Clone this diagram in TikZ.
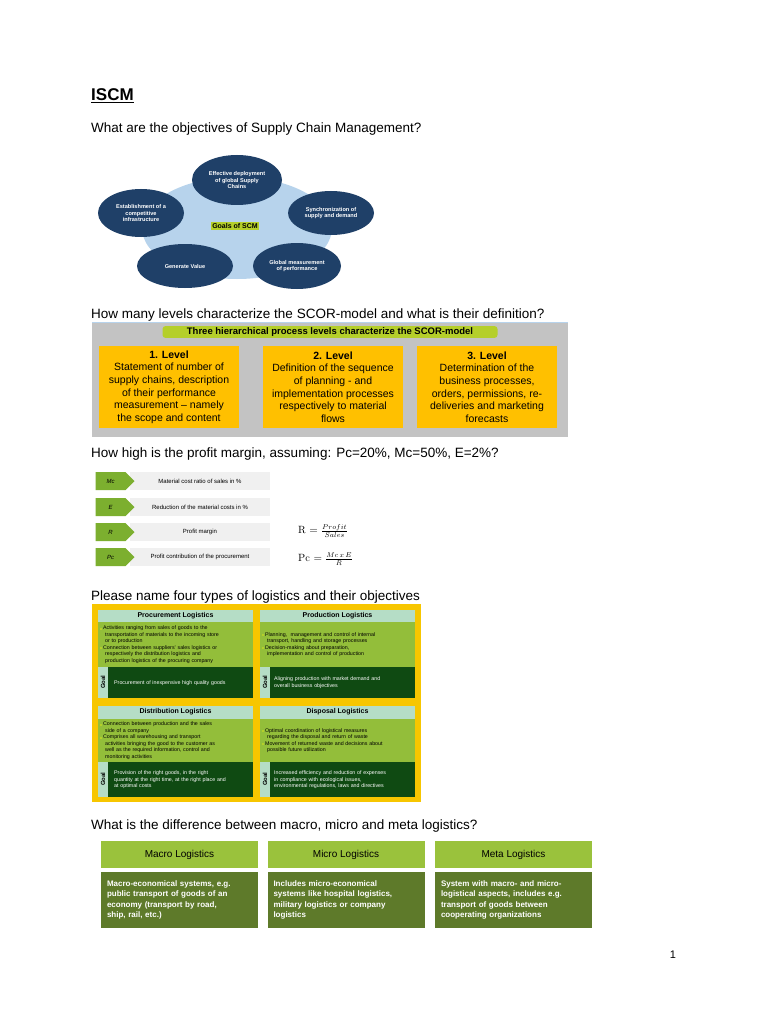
\documentclass[tikz,border=0pt]{standalone}
\usepackage{amssymb}
\usepackage{fontspec}
\setmainfont{Liberation Sans}
\usetikzlibrary{shapes.geometric,shapes.symbols}
\definecolor{navy}{HTML}{1F4068}
\definecolor{lblue}{HTML}{B7D3EC}
\definecolor{ygreen}{HTML}{B5CF2A}
\definecolor{sgray}{HTML}{C3C3C3}
\definecolor{orng}{HTML}{FFC000}
\definecolor{lgreen}{HTML}{93BE3A}
\definecolor{mgreen}{HTML}{7CAF2F}
\definecolor{rowgray}{HTML}{F0F0F0}
\definecolor{teal}{HTML}{B5DDC6}
\definecolor{dgreen}{HTML}{0F4A12}
\definecolor{ogreen}{HTML}{5E7A2A}
\definecolor{hgreen}{HTML}{9AC23C}
\definecolor{gold}{HTML}{F7C600}
\newcommand\bsq{\hspace*{2pt}\textcolor{ygreen}{\rule{2pt}{2pt}}\,}
\tikzset{
 q/.style={anchor=west,font=\fontsize{13.5}{16}\selectfont,inner sep=0},
 goal/.style={ellipse,fill=navy,text=white,font=\bfseries\fontsize{5.6}{6.6}\selectfont,align=center,inner sep=0},
 lvl/.style={fill=orng,minimum width=140,minimum height=82,align=center,font=\fontsize{10.5}{12.6}\selectfont,inner sep=0},
 arr/.style={signal,signal to=east,fill=mgreen,minimum height=18,minimum width=39,inner sep=0,font=\itshape\fontsize{6}{7}\selectfont},
 bar/.style={fill=rowgray,minimum width=140,minimum height=18,inner sep=0,font=\fontsize{6}{7}\selectfont},
 lhead/.style={fill=teal,minimum width=155,minimum height=13,inner sep=0,font=\bfseries\fontsize{7}{8}\selectfont},
 lbody/.style={fill=lgreen,minimum width=155,anchor=north west,inner sep=0,font=\fontsize{5.3}{6.6}\selectfont,align=left},
 lgoal/.style={fill=dgreen,text=white,anchor=north west,inner sep=0,font=\fontsize{5.3}{6.6}\selectfont,align=left},
 gtag/.style={fill=teal,anchor=north west,inner sep=0,minimum width=10},
 gword/.style={rotate=90,font=\bfseries\fontsize{6}{7}\selectfont,inner sep=0},
 mhead/.style={fill=hgreen,minimum width=157,minimum height=27,inner sep=0,font=\fontsize{10}{12}\selectfont},
 mbody/.style={fill=ogreen,text=white,minimum width=157,minimum height=56,inner sep=0,font=\bfseries\fontsize{8}{10.5}\selectfont,text width=145,align=left}
}
\begin{document}
\begin{tikzpicture}[x=1pt,y=-1pt]
\useasboundingbox[fill=white] (0,0) rectangle (768,1024);
\node[anchor=west,inner sep=0,font=\bfseries\fontsize{17}{20}\selectfont] (t) at (91,96) {\underline{ISCM}};
\node[q] (q1) at (91,129) {What are the objectives of Supply Chain Management?};
% goals
\node[ellipse,fill=lblue,minimum width=190,minimum height=102,inner sep=0] (c) at (237,228) {};
\node[fill=ygreen,inner sep=1,font=\bfseries\fontsize{7}{8}\selectfont] (gl) at (235,226) {Goals of SCM};
\node[goal,minimum width=90,minimum height=50] (g1) at (237,180) {Effective deployment\\of global Supply\\Chains};
\node[goal,minimum width=86,minimum height=48] (g2) at (141,213) {Establishment of a\\competitive\\infrastructure};
\node[goal,minimum width=86,minimum height=44] (g3) at (331,213) {Synchronization of\\supply and demand};
\node[goal,minimum width=96,minimum height=44] (g4) at (185,266) {Generate Value};
\node[goal,minimum width=88,minimum height=46] (g5) at (297,266) {Global measurement\\of performance};
% SCOR
\node[q] (q2) at (91,315) {How many levels characterize the SCOR-model and what is their definition?};
\node[fill=sgray,minimum width=476,minimum height=115,inner sep=0,anchor=north west] (sb) at (92,322) {};
\draw[lblue,line width=1] (sb.north west) -- (sb.north east);
\node[fill=ygreen,rounded corners=3,inner sep=1.5,minimum width=335,font=\bfseries\fontsize{9.5}{11}\selectfont] (st) at (330,332) {Three hierarchical process levels characterize the SCOR-model};
\node[lvl] (l1) at (169,387) {\textbf{1. Level}\\Statement of number of\\supply chains, description\\of their performance\\measurement -- namely\\the scope and content};
\node[lvl] (l2) at (333,387) {\textbf{2. Level}\\Definition of the sequence\\of planning - and\\implementation processes\\respectively to material\\flows};
\node[lvl] (l3) at (487,387) {\textbf{3. Level}\\Determination of the\\business processes,\\orders, permissions, re-\\deliveries and marketing\\forecasts};
% profit
\node[q] (q3) at (91,454) {How high is the profit margin, assuming: Pc=20\%, Mc=50\%, E=2\%?};
\foreach \y/\a/\b/\n in {481/Mc/Material cost ratio of sales in \%/1,507/E/Reduction of the material costs in \%/2,532/R/Profit margin/3,557/Pc/Profit contribution of the procurement/4}{
 \node[bar] (b\n) at (200,\y) {\b};
 \node[arr] (a\n) at (110.5,\y) {\a};
}
\node[anchor=west,font=\fontfamily{lmr}\selectfont\fontsize{10.5}{12}\selectfont,inner sep=0] (f1) at (298,531) {R $=\frac{Profit}{Sales}$};
\node[anchor=west,font=\fontfamily{lmr}\selectfont\fontsize{10.5}{12}\selectfont,inner sep=0] (f2) at (298,559) {Pc $=\frac{Mc\,x\,E}{R}$};
% logistics
\node[q] (q4) at (91,597) {Please name four types of logistics and their objectives};
\node[fill=gold,minimum width=329,minimum height=198,inner sep=0,anchor=north west] (lo) at (92,604) {};
\node[lhead] (h1) at (175.5,616) {Procurement Logistics};
\node[lhead] (h2) at (337.5,616) {Production Logistics};
\node[lbody,minimum height=45,text width=155] (p1) at (98,622) {\bsq Activities ranging from sales of goods to the\\\hspace*{7pt}transportation of materials to the incoming store\\\hspace*{7pt}or to production\\\bsq Connection between suppliers' sales logistics or\\\hspace*{7pt}respectively the distribution logistics and\\\hspace*{7pt}production logistics of the procuring company};
\node[lbody,minimum height=45,text width=155] (p2) at (260,622) {\bsq Planning,\ \ management and control of internal\\\hspace*{7pt}transport, handling and storage processes\\\bsq Decision-making about preparation,\\\hspace*{7pt}implementation and control of production};
\node[gtag,minimum height=31] (gt1) at (98,667) {};
\node[gword] (w1) at (103,682) {Goal};
\node[lgoal,minimum width=145,minimum height=31,text width=145] (go1) at (108,667) {\hspace*{6pt}Procurement of inexpensive high quality goods};
\node[gtag,minimum height=31] (gt2) at (260,667) {};
\node[gword] (w2) at (265,682) {Goal};
\node[lgoal,minimum width=145,minimum height=31,text width=145] (go2) at (270,667) {\hspace*{4pt}Aligning production with market demand and\\\hspace*{4pt}overall business objectives};
\node[lhead] (h3) at (175.5,712) {Distribution Logistics};
\node[lhead] (h4) at (337.5,712) {Disposal Logistics};
\node[lbody,minimum height=43,text width=155] (p3) at (98,719) {\bsq Connection between production and the sales\\\hspace*{7pt}side of a company\\\bsq Comprises all warehousing and transport\\\hspace*{7pt}activities bringing the good to the customer as\\\hspace*{7pt}well as the required information, control and\\\hspace*{7pt}monitoring activities};
\node[lbody,minimum height=43,text width=155] (p4) at (260,719) {\bsq Optimal coordination of logistical measures\\\hspace*{7pt}regarding the disposal and return of waste\\\bsq Movement of returned waste and decisions about\\\hspace*{7pt}possible future utilization};
\node[gtag,minimum height=35] (gt3) at (98,762) {};
\node[gword] (w3) at (103,779) {Goal};
\node[lgoal,minimum width=145,minimum height=35,text width=145] (go3) at (108,762) {\hspace*{6pt}Provision of the right goods, in the right\\\hspace*{6pt}quantity at the right time, at the right place and\\\hspace*{6pt}at optimal costs};
\node[gtag,minimum height=35] (gt4) at (260,762) {};
\node[gword] (w4) at (265,779) {Goal};
\node[lgoal,minimum width=145,minimum height=35,text width=145] (go4) at (270,762) {\hspace*{4pt}Increased efficiency and reduction of expenses\\\hspace*{4pt}in compliance with ecological issues,\\\hspace*{4pt}environmental regulations, laws and directives};
% macro
\node[q] (q5) at (91,826) {What is the difference between macro, micro and meta logistics?};
\node[mhead] (m1) at (179.5,854.5) {Macro Logistics};
\node[mhead] (m2) at (346,854.5) {Micro Logistics};
\node[mhead] (m3) at (513.5,854.5) {Meta Logistics};
\node[mbody] (n1) at (179.5,900) {Macro-economical systems, e.g.\\public transport of goods of an\\economy (transport by road,\\ship, rail, etc.)};
\node[mbody] (n2) at (346,900) {Includes micro-economical\\systems like hospital logistics,\\military logistics or company\\logistics};
\node[mbody] (n3) at (513.5,900) {System with macro- and micro-\\logistical aspects, includes e.g.\\transport of goods between\\cooperating organizations};
\node[inner sep=0,font=\fontsize{11}{13}\selectfont] (pg) at (673,955) {1};
\end{tikzpicture}
\end{document}
